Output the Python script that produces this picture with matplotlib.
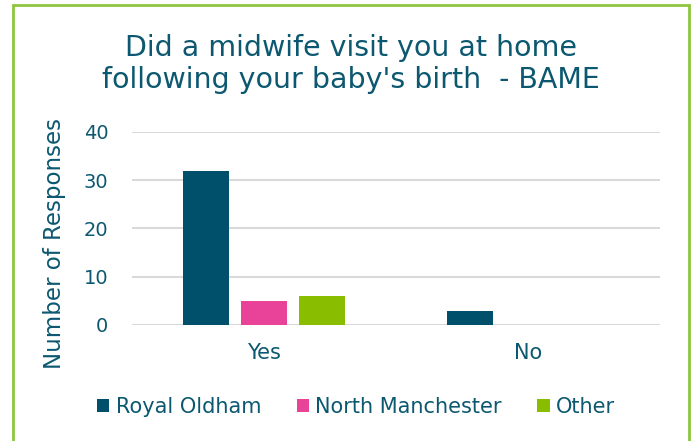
import matplotlib.pyplot as plt
import numpy as np
from matplotlib.patches import Rectangle

categories = ["Yes", "No"]
series = ["Royal Oldham", "North Manchester", "Other"]
values = {
    "Royal Oldham": [32, 3],
    "North Manchester": [5, 0],
    "Other": [6, 0],
}
colors = ["#00506B", "#E84299", "#88BD00"]
text_color = "#0C5870"

plt.rcParams["font.family"] = ["DejaVu Sans"]

fig = plt.figure(figsize=(6.93, 4.41), dpi=100)
ax = fig.add_axes([132 / 693, 1 - 325 / 441, 528 / 693, 193 / 441])

x = np.arange(len(categories))
width = 0.174
step = 0.22
for i, name in enumerate(series):
    ax.bar(x + (i - 1) * step, values[name], width, color=colors[i], label=name, zorder=3)

ax.set_xlim(-0.5, 1.5)
ax.set_ylim(0, 40)
ax.set_yticks([0, 10, 20, 30, 40])
ax.set_xticks(x)
ax.set_xticklabels(categories)
ax.yaxis.grid(True, color="#D9D9D9", linewidth=1.5, zorder=0)
ax.set_axisbelow(True)
for s in ax.spines.values():
    s.set_visible(False)
ax.tick_params(axis="y", length=0, labelsize=14, colors=text_color, pad=17)
ax.tick_params(axis="x", length=0, labelsize=15, colors=text_color, pad=13)
ax.set_ylabel("Number of Responses", fontsize=16.5, color=text_color)
ax.yaxis.set_label_coords((66 - 132) / 528, 0.42)

fig.text(0.507, 1 - 64 / 441, "Did a midwife visit you at home\nfollowing your baby's birth  - BAME",
         ha="center", va="center", fontsize=20.5, color=text_color, linespacing=1.2)

leg = fig.legend(loc="center", bbox_to_anchor=(356 / 693, 1 - 407 / 441), ncol=3, frameon=False,
                 fontsize=15, handlelength=0.6, handleheight=0.6, handletextpad=0.3,
                 columnspacing=1.7)
for t in leg.get_texts():
    t.set_color(text_color)

fig.patches.append(Rectangle((13 / 693, -0.05), 676 / 693, 1.05 - 5 / 441,
                             transform=fig.transFigure, fill=False,
                             edgecolor="#8CC63F", linewidth=2))

fig.savefig("out.png", dpi=100)
